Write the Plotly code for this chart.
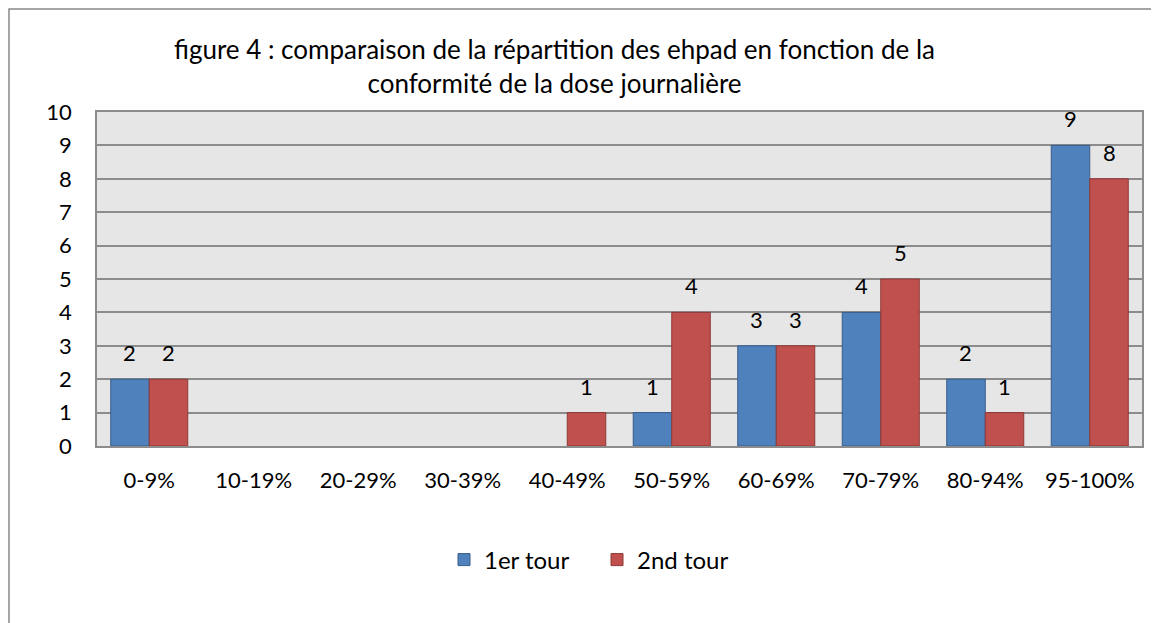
import plotly.graph_objects as go

categories = ["0-9%", "10-19%", "20-29%", "30-39%", "40-49%", "50-59%", "60-69%", "70-79%", "80-94%", "95-100%"]
tour1 = [2, 0, 0, 0, 0, 1, 3, 4, 2, 9]
tour2 = [2, 0, 0, 0, 1, 4, 3, 5, 1, 8]
series_names = ["1er tour", "2nd tour"]
y_ticks = list(range(0, 11))
title_text = "figure 4 : comparaison de la répartition des ehpad en fonction de la<br>conformité de la dose journalière"

FONT = "Lato"
FS = 22
W, H = 1159, 623
OFF = 8  # page body margin
L, T = 97 - OFF, 112 - OFF
R = W - (1142 - OFF)
B = H - (446 - OFF)
PW, PH = W - L - R, H - T - B

fig = go.Figure()
fig.add_trace(go.Bar(x=categories, y=tour1, name=series_names[0],
                     marker=dict(color="#4F81BD",
                                 line=dict(color="#385D8A", width=[1 if v else 0 for v in tour1]))))
fig.add_trace(go.Bar(x=categories, y=tour2, name=series_names[1],
                     marker=dict(color="#C0504D",
                                 line=dict(color="#8C3836", width=[1 if v else 0 for v in tour2]))))

# data labels
bar_px = PW / len(categories) * (1 - 0.263) / 2
for vals, shift in ((tour1, -bar_px / 2), (tour2, bar_px / 2)):
    for c, v in zip(categories, vals):
        if v:
            fig.add_annotation(x=c, y=v, text=str(v), showarrow=False, xshift=shift,
                               yanchor="bottom", yshift=11,
                               font=dict(family=FONT, size=FS, color="black"))

fig.add_annotation(xref="paper", yref="paper", x=(554 - OFF - L) / PW, y=1 + (T - (66 - OFF)) / PH,
                   text=title_text, showarrow=False, yanchor="middle", xanchor="center",
                   font=dict(family=FONT, size=26, color="black"))

# outer chart border
fig.add_shape(type="rect", xref="paper", yref="paper",
              x0=(1 - L) / PW, x1=1.2, y0=-1.0, y1=1 + (T - 1) / PH,
              line=dict(color="#888888", width=1.5), fillcolor="rgba(0,0,0,0)", layer="below")

fig.update_layout(
    width=W, height=H,
    margin=dict(l=L, r=R, t=T, b=B),
    paper_bgcolor="white", plot_bgcolor="#E6E6E6",
    barmode="group", bargap=0.263, bargroupgap=0,
    font=dict(family=FONT, size=FS, color="black"),
    showlegend=True,
    legend=dict(orientation="h", x=(597 - OFF - L) / PW, xanchor="center",
                y=((446 - OFF) - (560 - OFF)) / PH, yanchor="middle",
                font=dict(family=FONT, size=24), itemwidth=30, entrywidth=108, entrywidthmode="pixels",
                bgcolor="rgba(0,0,0,0)"),
    xaxis=dict(showgrid=False, showline=True, mirror=True, linecolor="#8C8C8C", linewidth=1.5,
               ticks="", ticklabelstandoff=14, tickfont=dict(family=FONT, size=FS)),
    yaxis=dict(range=[0, 10], tickvals=y_ticks, showgrid=True, gridcolor="#8C8C8C", gridwidth=1.5,
               showline=True, mirror=True, linecolor="#8C8C8C", linewidth=1.5, zeroline=False,
               ticks="", ticklabelstandoff=19, tickfont=dict(family=FONT, size=FS)),
)

fig.write_html("out.html")
